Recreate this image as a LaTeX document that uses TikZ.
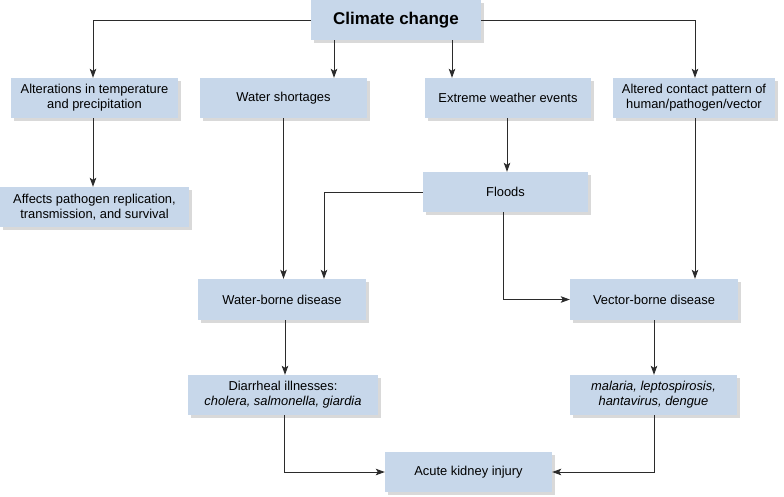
\documentclass[tikz,border=0pt]{standalone}
\usepackage{fontspec}
\setmainfont{Liberation Sans}
\usetikzlibrary{arrows.meta,shadows}
\definecolor{boxfill}{HTML}{C7D7EA}
\definecolor{shadowgray}{HTML}{D9D9D9}
\definecolor{linegray}{HTML}{2B2B2B}
\tikzset{
  box/.style={fill=boxfill, inner sep=0pt, align=center, minimum height=40pt,
    font=\fontsize{12.9}{15}\selectfont,
    drop shadow={shadow xshift=3pt, shadow yshift=-3pt, fill=shadowgray, opacity=1}},
  arr/.style={draw=linegray, line width=0.9pt, -{Stealth[length=9pt,width=6.5pt,inset=2pt]}},
  ln/.style={draw=linegray, line width=0.9pt}
}
\begin{document}
\begin{tikzpicture}[x=1pt,y=-1pt]
\useasboundingbox (0,0) rectangle (784,496);
\node[box, minimum width=170pt, font=\fontsize{17}{20}\selectfont\bfseries] (cc) at (396,20) {Climate change};
\node[box, minimum width=167pt] (alt) at (94.5,98) {Alterations in temperature\\and precipitation};
\node[box, minimum width=189pt] (aff) at (94.5,207) {Affects pathogen replication,\\transmission, and survival};
\node[box, minimum width=167pt] (ws) at (283.5,98) {Water shortages};
\node[box, minimum width=166pt] (ew) at (508,98) {Extreme weather events};
\node[box, minimum width=162pt] (ac) at (694,98) {Altered contact pattern of\\human/pathogen/vector};
\node[box, minimum width=165pt] (fl) at (505.5,192) {Floods};
\node[box, minimum width=168pt, minimum height=41pt] (wb) at (282,299.5) {Water-borne disease};
\node[box, minimum width=168pt, minimum height=41pt] (vb) at (654,299.5) {Vector-borne disease};
\node[box, minimum width=190pt] (di) at (283,395) {Diarrheal illnesses:\\\textit{cholera, salmonella, giardia}};
\node[box, minimum width=167pt] (ma) at (653.5,395) {\textit{malaria, leptospirosis,}\\\textit{hantavirus, dengue}};
\node[box, minimum width=167pt] (ak) at (468.5,472) {Acute kidney injury};
\coordinate (xa) at (93,0);
\coordinate (xb) at (334,0);
\coordinate (xc) at (452,0);
\coordinate (xd) at (695,0);
\coordinate (xe) at (324,0);
\coordinate (xf) at (503,0);
\coordinate (xg) at (284,0);
\coordinate (xh) at (654,0);
\coordinate (xi) at (507,0);
\coordinate (xj) at (285,0);
\draw[arr] (cc.west) -| (alt.north -| xa);
\draw[arr] (cc.east) -| (ac.north -| xd);
\draw[arr] (cc.south -| xb) -- (ws.north -| xb);
\draw[arr] (cc.south -| xc) -- (ew.north -| xc);
\draw[arr] (alt.south -| xa) -- (aff.north -| xa);
\draw[arr] (ws.south) -- (ws.south |- wb.north);
\draw[arr] (ew.south -| xi) -- (fl.north -| xi);
\draw[arr] (fl.west) -| (wb.north -| xe);
\draw[arr] (fl.south -| xf) |- (vb.west);
\draw[arr] (ac.south -| xd) -- (vb.north -| xd);
\draw[arr] (wb.south -| xj) -- (di.north -| xj);
\draw[arr] (vb.south -| xh) -- (ma.north -| xh);
\draw[arr] (di.south -| xg) |- (ak.west);
\draw[arr] (ma.south -| xh) |- (ak.east);
\end{tikzpicture}
\end{document}
